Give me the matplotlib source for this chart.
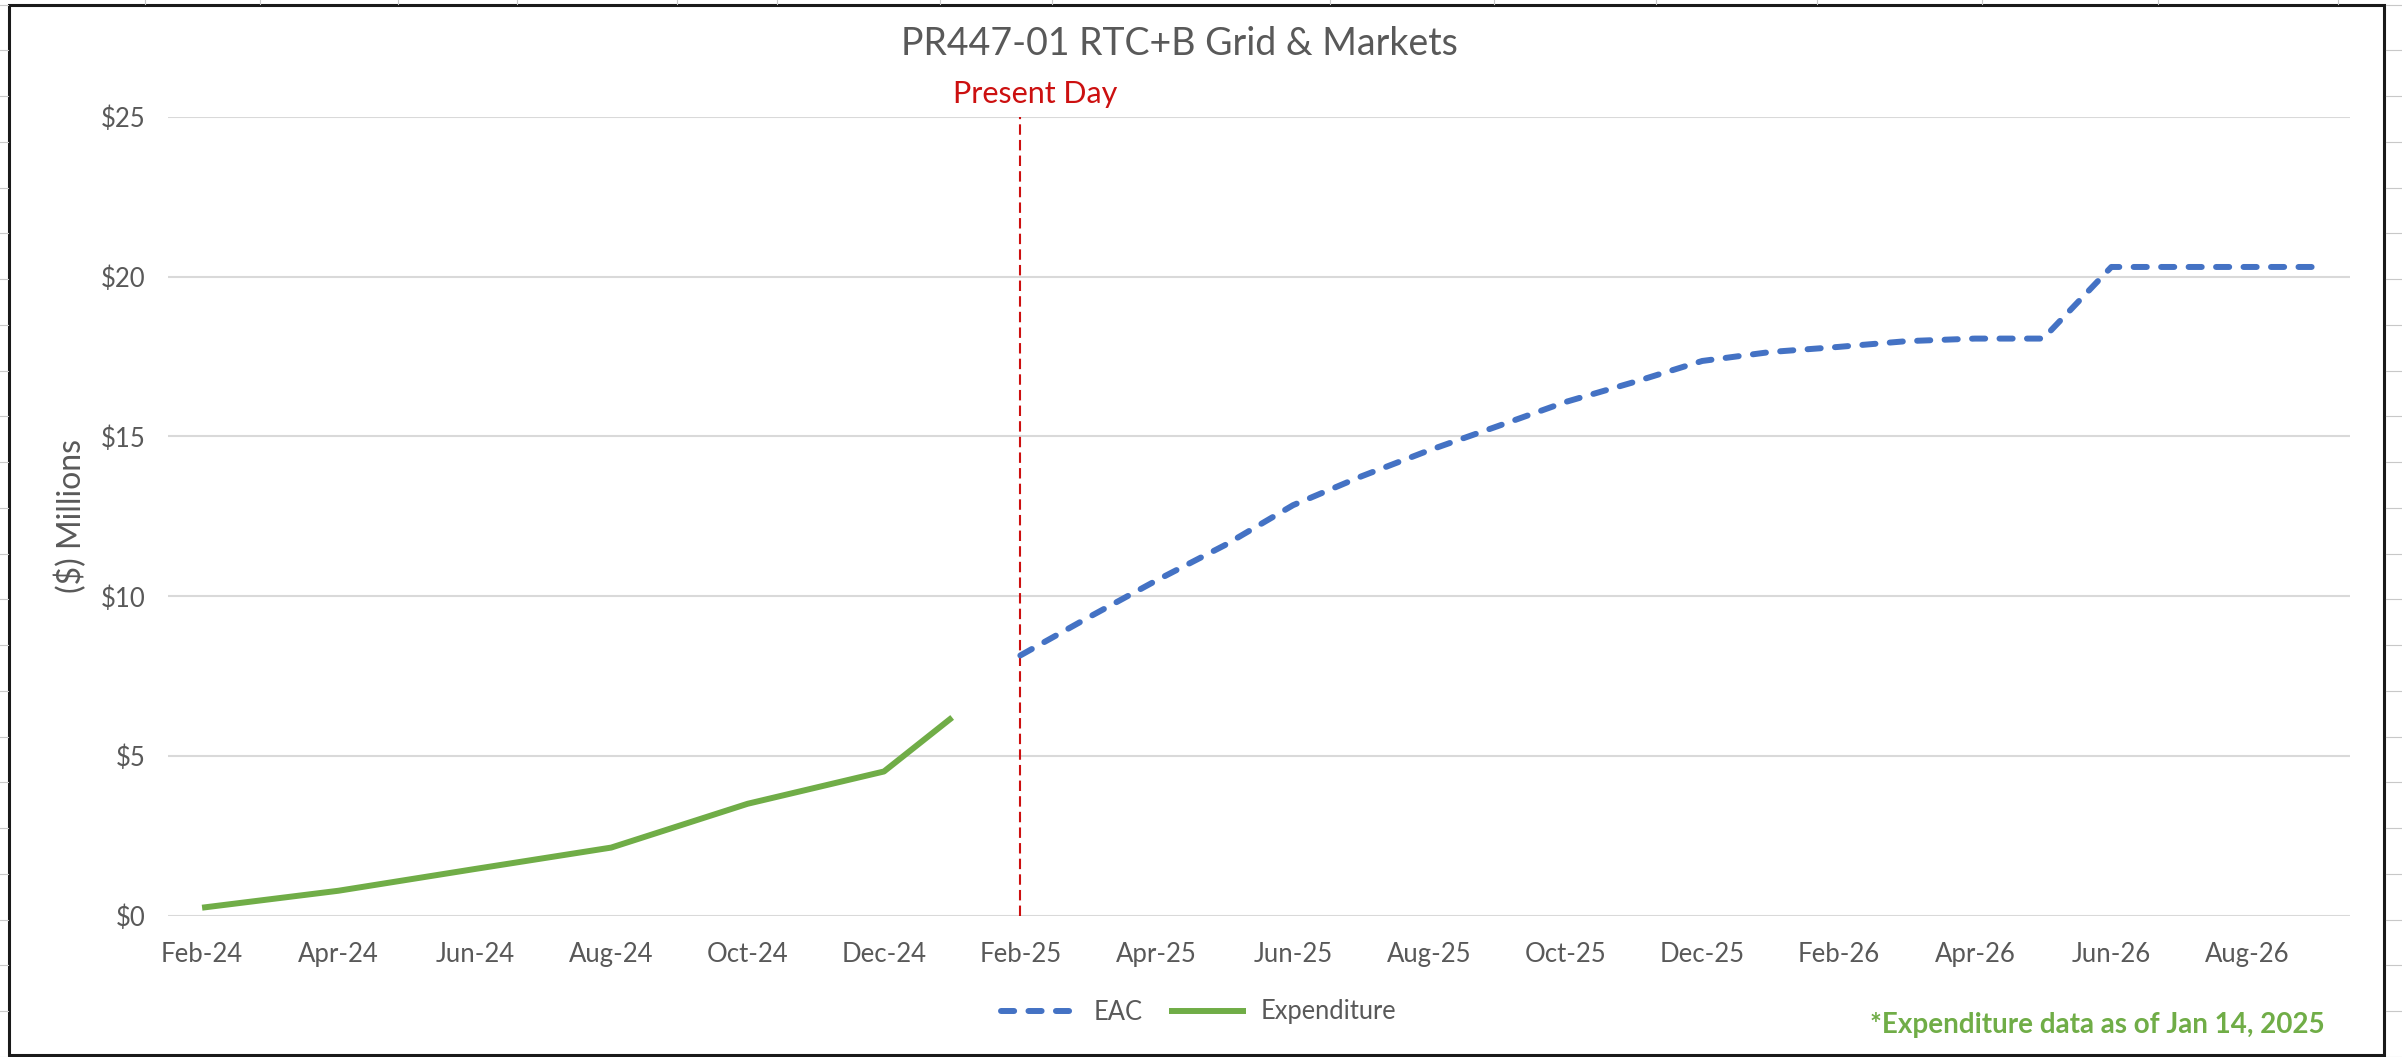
import matplotlib
matplotlib.use("Agg")
import matplotlib.pyplot as plt
from matplotlib.lines import Line2D
from matplotlib.patches import Rectangle
import numpy as np
import pandas as pd

# category axis: one slot per month
months = pd.date_range("2024-02-01", "2026-09-01", freq="MS")
month_labels = [m.strftime("%b-%y") for m in months]

# EAC forecast ($ millions)
eac_months = pd.date_range("2025-02-01", "2026-09-01", freq="MS")
eac_values = [8.15, 9.34, 10.5, 11.6, 12.85, 13.75, 14.57, 15.32, 16.08, 16.7,
              17.36, 17.64, 17.8, 17.98, 18.06, 18.06, 20.3, 20.3, 20.3, 20.3]

# expenditure to date ($ millions)
exp_months = pd.to_datetime(["2024-02-01", "2024-04-01", "2024-06-01", "2024-08-01",
                             "2024-10-01", "2024-12-01", "2025-01-01"])
exp_values = [0.26, 0.79, 1.47, 2.14, 3.51, 4.52, 6.21]

present_day = pd.Timestamp("2025-02-01")
y_ticks = [0, 5, 10, 15, 20, 25]

title = "PR447-01 RTC+B Grid & Markets"
footnote = "*Expenditure data as of Jan 14, 2025"

BLUE = "#4472C4"
GREEN = "#70AD47"
RED = "#CC1010"
GRAY_TXT = "#595959"
GRID = "#D9D9D9"

plt.rcParams["font.family"] = ["Lato", "DejaVu Sans"]

W, H = 2402, 1057
fig = plt.figure(figsize=(W / 100, H / 100), dpi=100)


def fx(px):
    return px / W


def fy(py):
    return 1 - py / H


# spreadsheet cells peeking round the chart
for y in np.arange(4.5, H, 45.75):
    fig.add_artist(Line2D([0, fx(8)], [fy(y), fy(y)], color="#C8C8C8", lw=0.8))
    fig.add_artist(Line2D([fx(2386), 1], [fy(y), fy(y)], color="#C8C8C8", lw=0.8))
for x in [145, 260, 398, 517, 677, 777, 940, 1052, 1330, 1494, 1656, 1817, 1982, 2158, 2338]:
    fig.add_artist(Line2D([fx(x), fx(x)], [fy(0), fy(4)], color="#C8C8C8", lw=0.8))

# chart border
fig.add_artist(Rectangle((fx(9), fy(1055)), fx(2384) - fx(9), fy(5) - fy(1055),
                         fill=False, edgecolor="#1A1A1A", lw=2.2))

ax = fig.add_axes([fx(168), fy(916), fx(2350) - fx(168), fy(116.7) - fy(916)])

idx = {m: i for i, m in enumerate(months)}
eac_x = [idx[m] for m in eac_months]
exp_x = [idx[m] for m in exp_months]

ax.plot(eac_x, eac_values, color=BLUE, lw=4.3, dashes=(2.2, 2.4),
        dash_capstyle="round", solid_joinstyle="round", label="EAC", zorder=3)
ax.plot(exp_x, exp_values, color=GREEN, lw=4.3, solid_capstyle="butt",
        solid_joinstyle="round", label="Expenditure", zorder=3)

px = idx[present_day]
ax.plot([px, px], [0, 25], color=RED, lw=1.5, linestyle=(0, (5, 2.5)), zorder=2)
ax.annotate("Present Day", xy=(px, 25), xytext=(11, 10), textcoords="offset points",
            ha="center", va="baseline", color=RED, fontsize=22)

ax.set_xlim(-0.5, len(months) - 0.5)
ax.set_ylim(0, 25)
ax.set_xticks(range(0, len(months), 2))
ax.set_xticklabels(month_labels[::2])
ax.set_yticks(y_ticks)
ax.set_yticklabels([f"${v}" for v in y_ticks])
ax.tick_params(length=0, labelsize=18.5, colors=GRAY_TXT)
ax.tick_params(axis="y", pad=16)
ax.tick_params(axis="x", pad=18.5)
ax.grid(axis="y", color=GRID, lw=1.5)
ax.set_axisbelow(True)
for s in ax.spines.values():
    s.set_visible(False)

ax.set_ylabel("($) Millions", fontsize=23, color=GRAY_TXT)
ax.yaxis.set_label_coords(-0.037, 0.5)

fig.text(fx(1179), fy(55), title, ha="center", va="baseline",
         fontsize=27, color=GRAY_TXT)

fig.legend(loc="center", bbox_to_anchor=(fx(1199), fy(1012)), ncol=2, frameon=False,
           fontsize=18.4, handlelength=3.0, handletextpad=0.6, columnspacing=1.05,
           labelcolor=GRAY_TXT)

fig.text(fx(2325), fy(1025), footnote, ha="right", va="center",
         fontsize=20, color=GREEN, fontweight="bold")

fig.savefig("out.png", dpi=100)
